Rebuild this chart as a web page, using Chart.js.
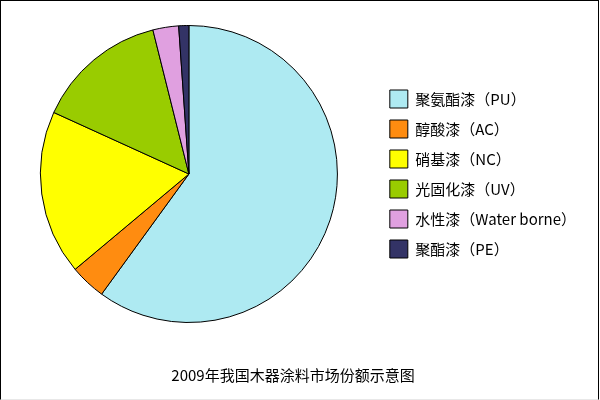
<!DOCTYPE html>
<html>
<head>
<meta charset="utf-8">
<script src="https://cdn.jsdelivr.net/npm/chart.js@4/dist/chart.umd.min.js"></script>
<style>
    body { margin : 0; background : #FFFFFF; }
    #wrap { position : relative; width : 600px; height : 400px; }
    #frame { position : absolute; left : 0; top : 0; width : 599px; height : 400px; box-sizing : border-box;
             border-left : 1px solid #000; border-top : 1px solid #000; border-right : 1px solid #000;
             border-bottom : 1px solid #E8E8E8; pointer-events : none; }
</style>
</head>
<body>
<div id="wrap">
    <canvas id="share" width="600" height="400"></canvas>
    <div id="frame"></div>
</div>
<script>
// 2009 wood coating market share (%)
const categories = ["聚氨酯漆（PU）", "醇酸漆（AC）", "硝基漆（NC）", "光固化漆（UV）", "水性漆（Water borne）", "聚酯漆（PE）"]
const shares = [60.0, 3.9, 17.9, 14.3, 2.8, 1.1]
const sliceColors = ["#AEEAF2", "#FF8C10", "#FFFF00", "#99CC00", "#E0A0E0", "#333366"]
const chartTitle = "2009年我国木器涂料市场份额示意图"

const fontFamily = "'Noto Sans CJK SC', 'Noto Sans', sans-serif"

const shareChart = new Chart(document.getElementById("share").getContext("2d"), {
    type : "pie",
    data : {
        labels : categories,
        datasets : [{
            data : shares,
            backgroundColor : sliceColors,
            borderColor : "#000000",
            borderWidth : 1,
        }],
    }, options : {
        responsive : false,
        animation : false,
        layout : {
            padding : { left : 0, top : 25, right : 14, bottom : 10 },
        }, plugins : {
            legend : {
                position : "right",
                fullSize : false,
                labels : {
                    boxWidth : 18,
                    boxHeight : 18,
                    padding : 12,
                    color : "#000000",
                    font : { family : fontFamily, size : 15 },
                },
            }, title : {
                display : true,
                position : "bottom",
                text : chartTitle,
                color : "#000000",
                font : { family : fontFamily, size : 15, weight : "normal" },
                padding : { top : 43, bottom : 6 },
            }, tooltip : {
                enabled : false,
            },
        },
    },
})
</script>
</body>
</html>
